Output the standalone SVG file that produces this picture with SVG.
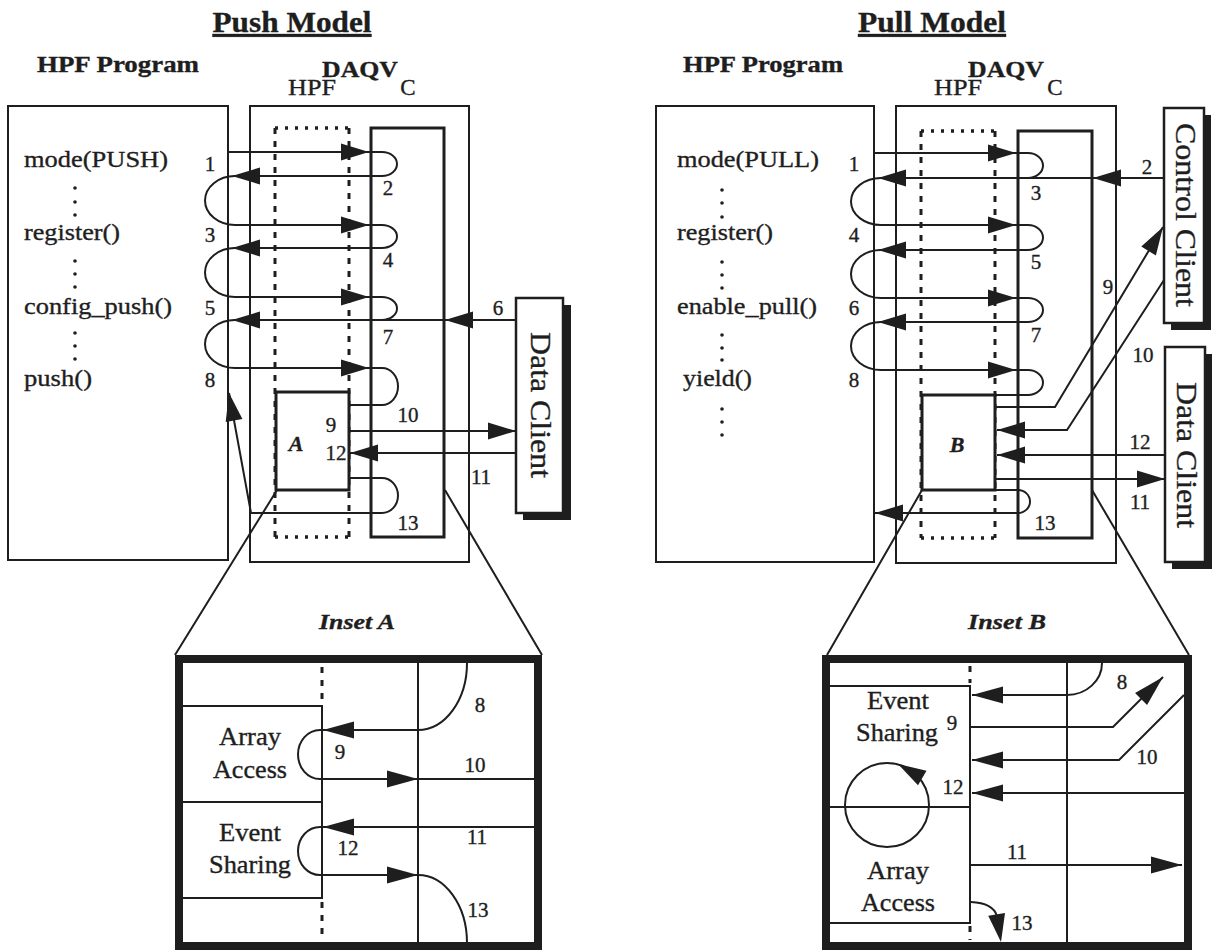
<svg xmlns="http://www.w3.org/2000/svg" width="1215" height="952" viewBox="0 0 1215 952">
<defs>
<style>
text{font-family:'Liberation Serif','Times New Roman',serif;fill:#1e1e1e;stroke:#1e1e1e;stroke-width:0.35}
.lbl{font-size:24px}
.num{font-size:21px;text-anchor:middle}
.hd{font-size:24px;font-weight:bold;text-anchor:middle}
.ttl{font-size:29px;font-weight:bold;text-anchor:middle;text-decoration:underline}
.sub{font-size:23px;text-anchor:middle}
.cl{font-size:30px;text-anchor:middle}
.bi{font-weight:bold;font-style:italic;text-anchor:middle}
.il{font-size:25px;text-anchor:middle}
.ln{fill:none;stroke:#1e1e1e;stroke-width:2}
.bx{fill:#fff;stroke:#1e1e1e;stroke-width:2}
.bx0{fill:none;stroke:#1e1e1e;stroke-width:2}
.bx3{fill:none;stroke:#1e1e1e;stroke-width:3}
.bxA{fill:#fff;stroke:#1e1e1e;stroke-width:3}
.dv{fill:none;stroke:#1e1e1e;stroke-width:3;stroke-dasharray:6 7}
.dh{fill:none;stroke:#1e1e1e;stroke-width:3.5;stroke-dasharray:3 7}
.ins{fill:none;stroke:#1e1e1e;stroke-width:8}
.sh{fill:#1e1e1e}
.ah{fill:#1e1e1e}
.dot{fill:#1e1e1e}
</style>
<path id="ah" class="ah" d="M0,0 L-28,-8.5 L-28,8.5 Z"/>
<path id="ahi" class="ah" d="M0,0 L-31,-8.5 L-31,8.5 Z"/>
</defs>
<rect width="1215" height="952" fill="#fff"/>

<!-- ================= PUSH MODEL ================= -->
<g id="push-title">
<text class="ttl" x="292" y="32" textLength="159" lengthAdjust="spacingAndGlyphs">Push Model</text>
</g>

<g id="push-hpf-program">
<rect class="bx" x="8" y="106" width="220" height="454"/>
<text class="hd" x="118" y="72" textLength="162" lengthAdjust="spacingAndGlyphs">HPF Program</text>
<text class="lbl" x="24" y="167" textLength="144" lengthAdjust="spacingAndGlyphs">mode(PUSH)</text>
<circle class="dot" cx="75" cy="188" r="1.8"/><circle class="dot" cx="75" cy="202" r="1.8"/><circle class="dot" cx="75" cy="215" r="1.8"/>
<text class="lbl" x="24" y="240" textLength="96" lengthAdjust="spacingAndGlyphs">register()</text>
<circle class="dot" cx="75" cy="261" r="1.8"/><circle class="dot" cx="75" cy="274" r="1.8"/><circle class="dot" cx="75" cy="287" r="1.8"/>
<text class="lbl" x="24" y="314" textLength="148" lengthAdjust="spacingAndGlyphs">config_push()</text>
<circle class="dot" cx="75" cy="333" r="1.8"/><circle class="dot" cx="75" cy="346" r="1.8"/><circle class="dot" cx="75" cy="359" r="1.8"/>
<text class="lbl" x="24" y="386" textLength="68" lengthAdjust="spacingAndGlyphs">push()</text>
</g>

<g id="push-daqv">
<rect class="bx" x="250" y="106" width="219" height="456"/>
<text class="hd" x="360" y="77" textLength="76" lengthAdjust="spacingAndGlyphs">DAQV</text>
<text class="sub" x="312" y="95" textLength="48" lengthAdjust="spacingAndGlyphs">HPF</text>
<text class="sub" x="408" y="95">C</text>
<path class="dh" d="M275,128 H349 M275,537 H349"/>
<path class="dv" d="M275,128 V537 M349,128 V537"/>
<rect class="bx3" x="371" y="128" width="73" height="409"/>
</g>

<g id="push-box-a">
<rect class="bxA" x="276" y="392" width="73" height="98"/>
<text class="bi" font-size="22" x="296" y="451">A</text>
</g>

<g id="push-data-client">
<rect class="sh" x="523" y="305" width="48" height="215"/>
<rect x="516" y="298" width="47" height="215" fill="#fff" stroke="#1e1e1e" stroke-width="2.5"/>
<text class="cl" transform="translate(531,405) rotate(90)" textLength="146" lengthAdjust="spacingAndGlyphs">Data Client</text>
</g>

<g id="push-connectors">
<path class="ln" d="M228,152 H382 A15,12 0 0 1 382,176 H235 A30,24.5 0 0 0 235,225 H382 A15,11.5 0 0 1 382,248 H235 A30,24.5 0 0 0 235,297 H382 A15,11.5 0 0 1 382,320 H235 A30,24 0 0 0 235,368 H382 A16,18.5 0 0 1 382,405 H349"/>
<path class="ln" d="M516,320 H382"/>
<path class="ln" d="M349,431 H516"/>
<path class="ln" d="M516,453 H349"/>
<path class="ln" d="M349,478 H382 A16,17.5 0 0 1 382,513 H251 L229,393"/>
<path class="ln" d="M277,490 L175,655 M445,490 L542,655"/>
<use href="#ah" transform="translate(369,152)"/>
<use href="#ah" transform="translate(232,176) rotate(180)"/>
<use href="#ah" transform="translate(369,225)"/>
<use href="#ah" transform="translate(232,248) rotate(180)"/>
<use href="#ah" transform="translate(369,297)"/>
<use href="#ah" transform="translate(445,320) rotate(180)"/>
<use href="#ah" transform="translate(232,320) rotate(180)"/>
<use href="#ah" transform="translate(369,368)"/>
<use href="#ah" transform="translate(516,431)"/>
<use href="#ah" transform="translate(350,453) rotate(180)"/>
<use href="#ah" transform="translate(229,393) rotate(-100.4)"/>
</g>

<g id="push-labels">
<text class="num" x="210" y="171">1</text>
<text class="num" x="210" y="242">3</text>
<text class="num" x="210" y="315">5</text>
<text class="num" x="210" y="387">8</text>
<text class="num" x="388" y="195">2</text>
<text class="num" x="388" y="267">4</text>
<text class="num" x="388" y="344">7</text>
<text class="num" x="498" y="315">6</text>
<text class="num" x="408" y="422">10</text>
<text class="num" x="481" y="484">11</text>
<text class="num" x="331" y="432">9</text>
<text class="num" x="336" y="460">12</text>
<text class="num" x="408" y="530">13</text>
</g>

<g id="inset-a">
<text class="bi" font-size="22" x="357" y="629" textLength="76" lengthAdjust="spacingAndGlyphs">Inset A</text>
<rect class="ins" x="179" y="659" width="359" height="287"/>
<line class="ln" x1="418" y1="663" x2="418" y2="943"/>
<path class="dv" d="M322,667 V704 M322,902 V940"/>
<path class="bx0" stroke-width="2.5" d="M183,706 H322 V898 H183 M183,802 H322"/>
<text class="il" x="250" y="745" textLength="62" lengthAdjust="spacingAndGlyphs">Array</text>
<text class="il" x="250" y="778" textLength="74" lengthAdjust="spacingAndGlyphs">Access</text>
<text class="il" x="250" y="841" textLength="62" lengthAdjust="spacingAndGlyphs">Event</text>
<text class="il" x="250" y="873" textLength="82" lengthAdjust="spacingAndGlyphs">Sharing</text>
</g>

<g id="inset-a-connectors">
<path class="ln" d="M467,663 A49,67 0 0 1 418,730 H320 A22,24.5 0 0 0 320,779 H534"/>
<path class="ln" d="M534,827 H320 A22,24 0 0 0 320,875 H418 A49,68 0 0 1 467,943"/>
<use href="#ahi" transform="translate(323,730) rotate(180)"/>
<use href="#ahi" transform="translate(418,779)"/>
<use href="#ahi" transform="translate(323,827) rotate(180)"/>
<use href="#ahi" transform="translate(418,875)"/>
<text class="num" x="480" y="712">8</text>
<text class="num" x="340" y="759">9</text>
<text class="num" x="475" y="772">10</text>
<text class="num" x="477" y="844">11</text>
<text class="num" x="348" y="855">12</text>
<text class="num" x="478" y="917">13</text>
</g>

<!-- ================= PULL MODEL ================= -->
<g id="pull-title">
<text class="ttl" x="932" y="32" textLength="148" lengthAdjust="spacingAndGlyphs">Pull Model</text>
</g>

<g id="pull-hpf-program">
<rect class="bx" x="656" y="106" width="218" height="456"/>
<text class="hd" x="763" y="72" textLength="160" lengthAdjust="spacingAndGlyphs">HPF Program</text>
<text class="lbl" x="677" y="167" textLength="142" lengthAdjust="spacingAndGlyphs">mode(PULL)</text>
<circle class="dot" cx="722" cy="190" r="1.8"/><circle class="dot" cx="722" cy="203" r="1.8"/><circle class="dot" cx="722" cy="217" r="1.8"/>
<text class="lbl" x="677" y="240" textLength="96" lengthAdjust="spacingAndGlyphs">register()</text>
<circle class="dot" cx="722" cy="262" r="1.8"/><circle class="dot" cx="722" cy="275" r="1.8"/><circle class="dot" cx="722" cy="288" r="1.8"/>
<text class="lbl" x="677" y="314" textLength="140" lengthAdjust="spacingAndGlyphs">enable_pull()</text>
<circle class="dot" cx="722" cy="335" r="1.8"/><circle class="dot" cx="722" cy="348" r="1.8"/><circle class="dot" cx="722" cy="360" r="1.8"/>
<text class="lbl" x="683" y="386" textLength="69" lengthAdjust="spacingAndGlyphs">yield()</text>
<circle class="dot" cx="722" cy="409" r="1.8"/><circle class="dot" cx="722" cy="422" r="1.8"/><circle class="dot" cx="722" cy="435" r="1.8"/>
</g>

<g id="pull-daqv">
<rect class="bx" x="896" y="106" width="220" height="457"/>
<text class="hd" x="1006" y="77" textLength="76" lengthAdjust="spacingAndGlyphs">DAQV</text>
<text class="sub" x="958" y="95" textLength="48" lengthAdjust="spacingAndGlyphs">HPF</text>
<text class="sub" x="1055" y="95">C</text>
<path class="dh" d="M921,131 H995 M921,538 H995"/>
<path class="dv" d="M921,131 V538 M995,131 V538"/>
<rect class="bx3" x="1018" y="131" width="74" height="407"/>
</g>

<g id="pull-box-b">
<rect class="bxA" x="922" y="395" width="73" height="95"/>
<text class="bi" font-size="22" x="957" y="452">B</text>
</g>

<g id="pull-control-client">
<rect class="sh" x="1171" y="115" width="40" height="215"/>
<rect x="1164" y="108" width="40" height="215" fill="#fff" stroke="#1e1e1e" stroke-width="2.5"/>
<text class="cl" transform="translate(1176,215) rotate(90)" textLength="184" lengthAdjust="spacingAndGlyphs">Control Client</text>
</g>

<g id="pull-data-client">
<rect class="sh" x="1172" y="354" width="40" height="215"/>
<rect x="1165" y="347" width="40" height="215" fill="#fff" stroke="#1e1e1e" stroke-width="2.5"/>
<text class="cl" transform="translate(1177,455) rotate(90)" textLength="146" lengthAdjust="spacingAndGlyphs">Data Client</text>
</g>

<g id="pull-connectors">
<path class="ln" d="M874,153 H1028 A15,12.5 0 0 1 1028,178 H881 A30,23.5 0 0 0 881,225 H1028 A15,12.5 0 0 1 1028,250 H881 A30,24 0 0 0 881,298 H1028 A15,12 0 0 1 1028,322 H881 A30,24 0 0 0 881,370 H1028 A15,12.5 0 0 1 1028,395 H995"/>
<path class="ln" d="M1164,178 H1028"/>
<path class="ln" d="M995,407 H1055 L1163,227"/>
<path class="ln" d="M1164,280 L1067,430 H997"/>
<path class="ln" d="M1165,455 H997"/>
<path class="ln" d="M995,479 H1165"/>
<path class="ln" d="M995,490 H1018 A12,11.5 0 0 1 1018,513 H874"/>
<path class="ln" d="M922,490 L827,655 M1092,490 L1189,655"/>
<use href="#ah" transform="translate(1016,153)"/>
<use href="#ah" transform="translate(1093,178) rotate(180)"/>
<use href="#ah" transform="translate(878,178) rotate(180)"/>
<use href="#ah" transform="translate(1016,225)"/>
<use href="#ah" transform="translate(878,250) rotate(180)"/>
<use href="#ah" transform="translate(1016,298)"/>
<use href="#ah" transform="translate(878,322) rotate(180)"/>
<use href="#ah" transform="translate(1016,370)"/>
<use href="#ah" transform="translate(1163,227) rotate(-59)"/>
<use href="#ah" transform="translate(997,430) rotate(180)"/>
<use href="#ah" transform="translate(997,455) rotate(180)"/>
<use href="#ah" transform="translate(1165,479)"/>
<use href="#ah" transform="translate(875,513) rotate(180)"/>
</g>

<g id="pull-labels">
<text class="num" x="854" y="171">1</text>
<text class="num" x="854" y="242">4</text>
<text class="num" x="854" y="315">6</text>
<text class="num" x="854" y="387">8</text>
<text class="num" x="1147" y="174">2</text>
<text class="num" x="1036" y="200">3</text>
<text class="num" x="1036" y="269">5</text>
<text class="num" x="1036" y="342">7</text>
<text class="num" x="1108" y="294">9</text>
<text class="num" x="1143" y="362">10</text>
<text class="num" x="1140" y="449">12</text>
<text class="num" x="1140" y="509">11</text>
<text class="num" x="1045" y="530">13</text>
</g>

<g id="inset-b">
<text class="bi" font-size="22" x="1007" y="629" textLength="78" lengthAdjust="spacingAndGlyphs">Inset B</text>
<rect class="ins" x="826" y="659" width="362" height="287"/>
<line class="ln" x1="1067" y1="663" x2="1067" y2="943"/>
<path class="dv" d="M970,666 V683 M970,926 V940"/>
<path class="bx0" stroke-width="2.5" d="M830,686 H970 V923 H830 M830,807 H970"/>
<circle class="ln" cx="887" cy="805" r="42"/>
<use href="#ah" transform="translate(898,764) rotate(-150)"/>
<text class="il" x="898" y="709" textLength="62" lengthAdjust="spacingAndGlyphs">Event</text>
<text class="il" x="897" y="741" textLength="82" lengthAdjust="spacingAndGlyphs">Sharing</text>
<text class="il" x="898" y="879" textLength="62" lengthAdjust="spacingAndGlyphs">Array</text>
<text class="il" x="898" y="911" textLength="74" lengthAdjust="spacingAndGlyphs">Access</text>
</g>

<g id="inset-b-connectors">
<path class="ln" d="M1102,663 A35,32 0 0 1 1067,695 H972"/>
<path class="ln" d="M971,727 H1113 L1163,677"/>
<path class="ln" d="M1184,695 L1119,760 H972"/>
<path class="ln" d="M1184,793 H972"/>
<path class="ln" d="M971,865 H1182"/>
<path class="ln" d="M971,902 Q993,903 997,916"/>
<use href="#ahi" transform="translate(972,695) rotate(180)"/>
<use href="#ahi" transform="translate(1163,677) rotate(-45)"/>
<use href="#ahi" transform="translate(972,760) rotate(180)"/>
<use href="#ahi" transform="translate(972,793) rotate(180)"/>
<use href="#ahi" transform="translate(1182,865)"/>
<use href="#ah" transform="translate(1001,942) rotate(81)"/>
<text class="num" x="1122" y="689">8</text>
<text class="num" x="952" y="730">9</text>
<text class="num" x="1147" y="764">10</text>
<text class="num" x="953" y="794">12</text>
<text class="num" x="1017" y="859">11</text>
<text class="num" x="1022" y="930">13</text>
</g>
</svg>
